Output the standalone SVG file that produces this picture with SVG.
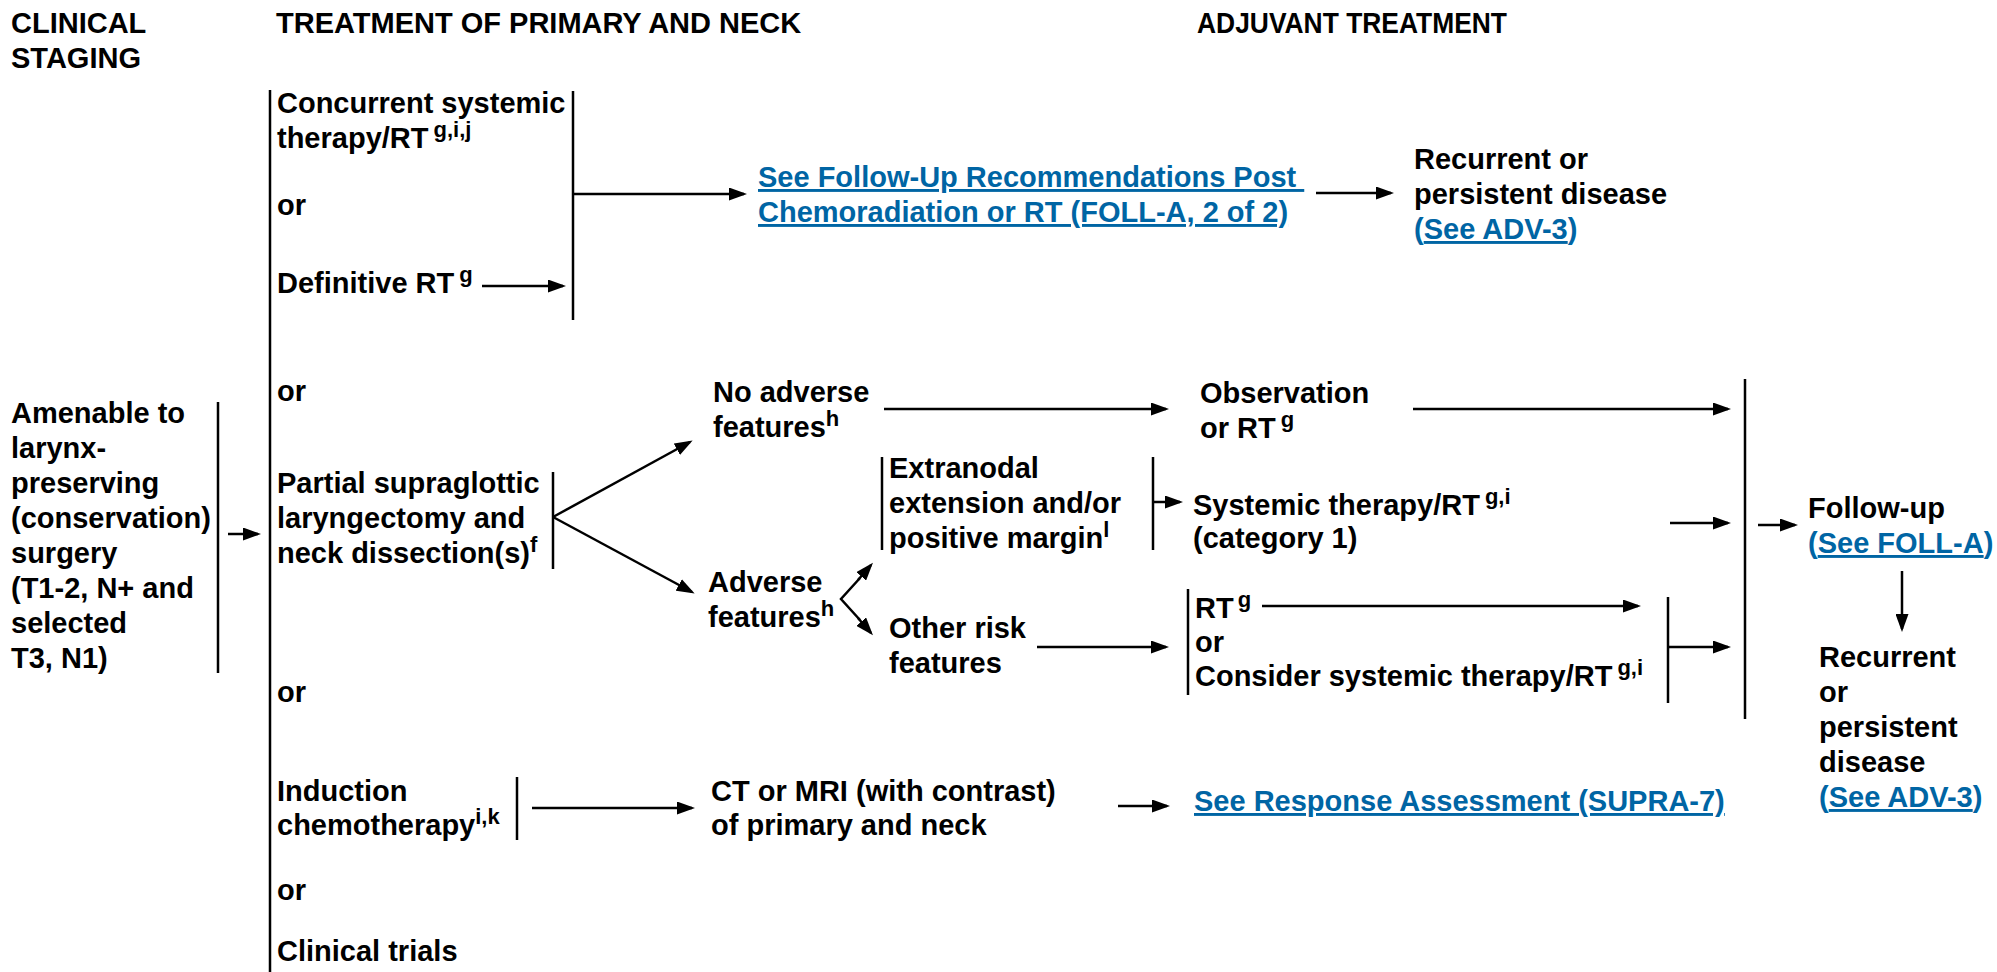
<svg xmlns="http://www.w3.org/2000/svg" width="1997" height="972" viewBox="0 0 1997 972">
  <style>
    text { font-family: "Liberation Sans", Arial, Helvetica, sans-serif; font-weight: bold; font-size: 29px; fill: #000; }
    .sup { font-size: 22px; }
    .lk { fill: #0065a4; }
    .u { text-decoration: underline; }
    .pre { white-space: pre; }
    .ln { stroke: #000; stroke-width: 2.5; fill: none; }
    .ar { stroke: #000; stroke-width: 2.5; fill: none; marker-end: url(#ah); }
  </style>
  <defs>
    <marker id="ah" markerUnits="userSpaceOnUse" markerWidth="18" markerHeight="13" refX="15" refY="6.5" orient="auto">
      <path d="M0,0 L18,6.5 L0,13 Z" fill="#000"/>
    </marker>
  </defs>

  <rect width="1997" height="972" fill="#fff"/>

  <!-- column headings -->
  <g id="headings">
    <text x="11" y="33">CLINICAL</text>
    <text x="11" y="68">STAGING</text>
    <text x="276" y="33">TREATMENT OF PRIMARY AND NECK</text>
    <text x="1197" y="33" textLength="310" lengthAdjust="spacingAndGlyphs">ADJUVANT TREATMENT</text>
  </g>

  <!-- clinical staging -->
  <g id="staging">
    <text x="11" y="423">Amenable to</text>
    <text x="11" y="458">larynx-</text>
    <text x="11" y="493">preserving</text>
    <text x="11" y="528">(conservation)</text>
    <text x="11" y="563">surgery</text>
    <text x="11" y="598">(T1-2, N+ and</text>
    <text x="11" y="633">selected</text>
    <text x="11" y="668">T3, N1)</text>
  </g>

  <!-- primary treatment options -->
  <g id="concurrent">
    <text x="277" y="113">Concurrent systemic</text>
    <text x="277" y="148">therapy/RT<tspan class="sup" dx="5" dy="-11">g,i,j</tspan></text>
  </g>
  <g id="or1"><text x="277" y="215">or</text></g>
  <g id="definitive"><text x="277" y="293">Definitive RT<tspan class="sup" dx="5" dy="-11">g</tspan></text></g>
  <g id="or2"><text x="277" y="401">or</text></g>
  <g id="partial">
    <text x="277" y="493">Partial supraglottic</text>
    <text x="277" y="528">laryngectomy and</text>
    <text x="277" y="563">neck dissection(s)<tspan class="sup" dy="-11">f</tspan></text>
  </g>
  <g id="or3"><text x="277" y="702">or</text></g>
  <g id="induction">
    <text x="277" y="801">Induction</text>
    <text x="277" y="835">chemotherapy<tspan class="sup" dy="-11">i,k</tspan></text>
  </g>
  <g id="or4"><text x="277" y="900">or</text></g>
  <g id="trials"><text x="277" y="961">Clinical trials</text></g>

  <!-- follow-up after chemoradiation / RT -->
  <g id="foll-a-link">
    <text class="lk u pre" x="758" y="187">See Follow-Up Recommendations Post </text>
    <text class="lk u" x="758" y="222">Chemoradiation or RT (FOLL-A, 2 of 2)</text>
  </g>
  <g id="recurrent-top">
    <text x="1414" y="169">Recurrent or</text>
    <text x="1414" y="204">persistent disease</text>
    <text class="lk" x="1414" y="239">(<tspan class="u">See ADV-3</tspan>)</text>
  </g>

  <!-- pathology after surgery -->
  <g id="no-adverse">
    <text x="713" y="402">No adverse</text>
    <text x="713" y="437">features<tspan class="sup" dy="-11">h</tspan></text>
  </g>
  <g id="adverse">
    <text x="708" y="592">Adverse</text>
    <text x="708" y="627">features<tspan class="sup" dy="-11">h</tspan></text>
  </g>
  <g id="extranodal">
    <text x="889" y="478">Extranodal</text>
    <text x="889" y="513">extension and/or</text>
    <text x="889" y="548">positive margin<tspan class="sup" dy="-11">l</tspan></text>
  </g>
  <g id="other-risk">
    <text x="889" y="638">Other risk</text>
    <text x="889" y="673">features</text>
  </g>

  <!-- adjuvant options -->
  <g id="observation">
    <text x="1200" y="403">Observation</text>
    <text x="1200" y="438">or RT<tspan class="sup" dx="5" dy="-11">g</tspan></text>
  </g>
  <g id="systemic-rt">
    <text x="1193" y="515">Systemic therapy/RT<tspan class="sup" dx="5" dy="-11">g,i</tspan></text>
    <text x="1193" y="548">(category 1)</text>
  </g>
  <g id="rt-options">
    <text x="1195" y="618">RT<tspan class="sup" dx="4" dy="-11">g</tspan></text>
    <text x="1195" y="652">or</text>
    <text x="1195" y="686">Consider systemic therapy/RT<tspan class="sup" dx="5" dy="-11">g,i</tspan></text>
  </g>
  <g id="follow-up">
    <text x="1808" y="518">Follow-up</text>
    <text class="lk" x="1808" y="553">(<tspan class="u">See FOLL-A</tspan>)</text>
  </g>
  <g id="recurrent-right">
    <text x="1819" y="667">Recurrent</text>
    <text x="1819" y="702">or</text>
    <text x="1819" y="737">persistent</text>
    <text x="1819" y="772">disease</text>
    <text class="lk" x="1819" y="807">(<tspan class="u">See ADV-3</tspan>)</text>
  </g>

  <!-- imaging after induction -->
  <g id="imaging">
    <text x="711" y="801">CT or MRI (with contrast)</text>
    <text x="711" y="835">of primary and neck</text>
  </g>
  <g id="response-link">
    <text class="lk u" x="1194" y="811">See Response Assessment (SUPRA-7)</text>
  </g>

  <!-- brackets and arrows -->
  <g id="connectors">
    <!-- brackets -->
    <line class="ln" x1="218" y1="402" x2="218" y2="673"/>
    <line class="ln" x1="270" y1="90" x2="270" y2="972"/>
    <line class="ln" x1="573" y1="91" x2="573" y2="320"/>
    <line class="ln" x1="553" y1="472" x2="553" y2="569"/>
    <line class="ln" x1="882" y1="457" x2="882" y2="550"/>
    <line class="ln" x1="1153" y1="457" x2="1153" y2="550"/>
    <line class="ln" x1="1188" y1="589" x2="1188" y2="695"/>
    <line class="ln" x1="1668" y1="597" x2="1668" y2="703"/>
    <line class="ln" x1="1745" y1="379" x2="1745" y2="719"/>
    <line class="ln" x1="517" y1="777" x2="517" y2="840"/>

    <!-- arrows -->
    <line class="ar" x1="228" y1="534" x2="258" y2="534"/>
    <line class="ar" x1="482" y1="286" x2="563" y2="286"/>
    <line class="ar" x1="573" y1="194" x2="744" y2="194"/>
    <line class="ar" x1="1316" y1="193" x2="1391" y2="193"/>
    <line class="ar" x1="553" y1="517" x2="690" y2="442"/>
    <line class="ar" x1="553" y1="517" x2="692" y2="592"/>
    <line class="ar" x1="884" y1="409" x2="1166" y2="409"/>
    <line class="ar" x1="1413" y1="409" x2="1728" y2="409"/>
    <polyline class="ln" points="860,578 841,599 860,620"/>
    <line class="ar" x1="858" y1="580" x2="871" y2="565"/>
    <line class="ar" x1="858" y1="618" x2="871" y2="633"/>
    <line class="ar" x1="1153" y1="502" x2="1180" y2="502"/>
    <line class="ar" x1="1670" y1="523" x2="1728" y2="523"/>
    <line class="ar" x1="1037" y1="647" x2="1166" y2="647"/>
    <line class="ar" x1="1262" y1="606" x2="1638" y2="606"/>
    <line class="ar" x1="1668" y1="647" x2="1728" y2="647"/>
    <line class="ar" x1="1758" y1="525" x2="1795" y2="525"/>
    <line class="ar" x1="1902" y1="571" x2="1902" y2="629"/>
    <line class="ar" x1="532" y1="808" x2="692" y2="808"/>
    <line class="ar" x1="1118" y1="806" x2="1167" y2="806"/>
  </g>
</svg>
